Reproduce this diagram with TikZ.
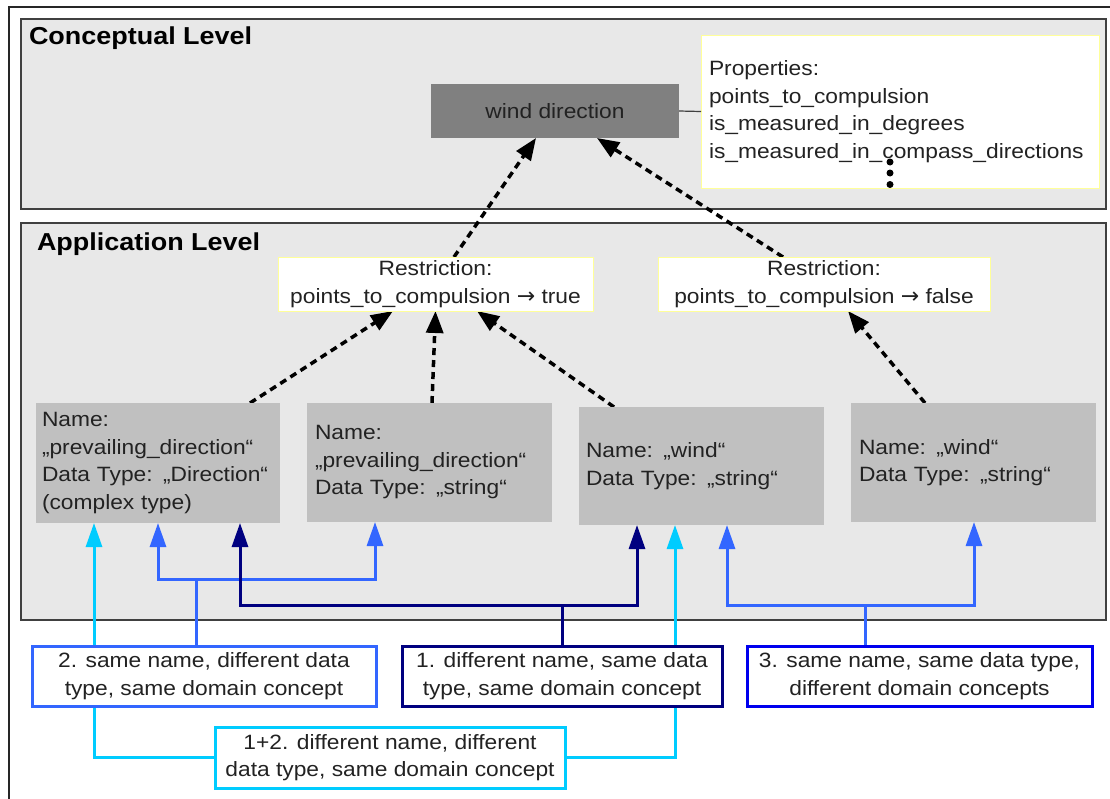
\documentclass[tikz,border=0pt]{standalone}
\usepackage{fontspec}
\setmainfont{Liberation Sans}[FakeStretch=1.1]
\newfontfamily\arrfont{DejaVu Sans}
\usetikzlibrary{arrows.meta}
\pgfdeclarelayer{back}\pgfdeclarelayer{mid}
\pgfsetlayers{back,mid,main}
\definecolor{lvlfill}{HTML}{E8E8E8}
\definecolor{lvlborder}{HTML}{404040}
\definecolor{wdfill}{HTML}{808080}
\definecolor{gfill}{HTML}{C0C0C0}
\definecolor{ylw}{HTML}{FFFF99}
\definecolor{txt}{HTML}{222222}
\definecolor{ccyan}{HTML}{00CCFF}
\definecolor{cblue}{HTML}{3366FF}
\definecolor{cnavy}{HTML}{000080}
\definecolor{cpure}{HTML}{0000EE}
\tikzset{
  ctip/.tip={Triangle[length=24pt,width=16pt]},
  dtip/.tip={Triangle[length=22pt,width=17pt]},
}
\newcommand{\rarr}{{\arrfont\fontsize{22}{27.5}\selectfont →}}
\begin{document}
\begin{tikzpicture}[x=1pt,y=-1pt,
  every node/.style={outer sep=0pt, text=txt, font=\fontsize{20.7}{27.5}\selectfont},
  level/.style={draw=lvlborder, line width=1.5pt, fill=lvlfill, anchor=north west, inner sep=0pt},
  title/.style={anchor=west, font=\fontsize{24.5}{28}\selectfont\bfseries, text=black, inner sep=0pt},
  concept/.style={fill=wdfill, inner sep=0pt},
  whitebox/.style={draw=ylw, fill=white, line width=1pt, inner sep=0pt},
  greybox/.style={fill=gfill, inner sep=0pt, align=left},
  legend/.style={fill=white, line width=3pt, inner sep=0pt, align=center},
  dasharrow/.style={black, line width=3.5pt, dash pattern=on 7pt off 5pt, -dtip},
  cline/.style={line width=3pt},
]
\useasboundingbox (0,0) rectangle (1110,798);

% level frames
\begin{pgfonlayer}{back}
\fill[white] (0,0) rectangle (1110,798);
\draw[line width=2.5pt, black!85] (9,805) -- (9,7) -- (1115,7);
\node[level, minimum width=1085pt, minimum height=190pt] (conc) at (21,19) {};
\node[level, minimum width=1085pt, minimum height=397pt] (appl) at (21,223) {};
\end{pgfonlayer}
\node[title] (tconc) at (29,38) {Conceptual Level};
\node[title] (tappl) at (37,244) {Application Level};

% conceptual level
\node[concept, minimum width=248pt, minimum height=54pt] (wind) at (555,111) {wind direction};
\node[whitebox, minimum width=398pt, minimum height=153pt, text width=382pt, align=left] (props) at (900,111.5)
  {Properties:\\points\_to\_compulsion\\is\_measured\_in\_degrees\\is\_measured\_in\_compass\_directions};
\draw[lvlborder, line width=1.2pt] (wind.east) -- (props.west);
\fill[black] ([xshift=189pt,yshift=26pt]props.south west) circle (3.5pt)
             ([xshift=189pt,yshift=15pt]props.south west) circle (3.5pt)
             ([xshift=189pt,yshift=3.5pt]props.south west) circle (3.5pt);

% restrictions
\node[whitebox, minimum width=315pt, minimum height=54pt, align=center] (r1) at (435.5,284)
  {Restriction:\\points\_to\_compulsion \rarr\ true};
\node[whitebox, minimum width=332pt, minimum height=54pt, align=center] (r2) at (824,284)
  {Restriction:\\points\_to\_compulsion \rarr\ false};

% application elements
\node[greybox, minimum width=244pt, minimum height=120pt, text width=232pt] (g1) at (158,463)
  {Name:\\„prevailing\_direction“\\Data Type: „Direction“\\(complex type)};
\node[greybox, minimum width=245pt, minimum height=119pt, text width=229pt] (g2) at (429.5,462.5)
  {Name:\\„prevailing\_direction“\\Data Type: „string“};
\node[greybox, minimum width=245pt, minimum height=118pt, text width=231pt] (g3) at (701.5,466)
  {Name: „wind“\\Data Type: „string“};
\node[greybox, minimum width=245pt, minimum height=119pt, text width=229pt] (g4) at (973.5,462.5)
  {Name: „wind“\\Data Type: „string“};

% legend boxes
\node[legend, draw=cblue, minimum width=344pt, minimum height=60pt] (b2) at (204,676)
  {2. same name, different data\\type, same domain concept};
\node[legend, draw=cnavy, minimum width=320pt, minimum height=60pt] (b1) at (562,676)
  {1. different name, same data\\type, same domain concept};
\node[legend, draw=cpure, minimum width=345pt, minimum height=60pt] (b3) at (919.5,676)
  {3. same name, same data type,\\different domain concepts};
\node[legend, draw=ccyan, minimum width=350pt, minimum height=61pt] (b12) at (390,757.5)
  {1+2. different name, different\\data type, same domain concept};

\begin{pgfonlayer}{mid}
% dashed arrows
\draw[dasharrow] ([xshift=214pt]g1.north west) -- ([xshift=115pt]r1.south west);
\draw[dasharrow] ([xshift=125pt]g2.north west) -- (r1.south);
\draw[dasharrow] ([xshift=35pt]g3.north west) -- ([xshift=199pt]r1.south west);
\draw[dasharrow] ([xshift=74pt]g4.north west) -- ([xshift=190pt]r2.south west);
\draw[dasharrow] ([xshift=176pt]r1.north west) -- ([xshift=105pt]wind.south west);
\draw[dasharrow] ([xshift=125pt]r2.north west) -- ([xshift=166pt]wind.south west);

% cyan (1+2)
\draw[ccyan, cline, -ctip] (b12.west) -| ([xshift=58pt]g1.south west);
\draw[ccyan, cline, -ctip] (b12.east) -| ([xshift=96pt]g3.south west);
% blue (2)
\draw[cblue, cline] ([xshift=164pt]b2.north west) -- ++(0,-67) coordinate (k2);
\draw[cblue, cline, ctip-ctip] ([xshift=122pt]g1.south west) |- (k2) -| ([xshift=68pt]g2.south west);
% blue (3)
\draw[cblue, cline] ([xshift=118pt]b3.north west) -- ++(0,-41) coordinate (k3);
\draw[cblue, cline, ctip-ctip] ([xshift=148pt]g3.south west) |- (k3) -| ([xshift=123pt]g4.south west);
% navy (1)
\draw[cnavy, cline] (b1.north) -- ++(0,-41) coordinate (k1);
\draw[cnavy, cline, ctip-ctip] ([xshift=204pt]g1.south west) |- (k1) -| ([xshift=58pt]g3.south west);
\end{pgfonlayer}
\end{tikzpicture}
\end{document}
